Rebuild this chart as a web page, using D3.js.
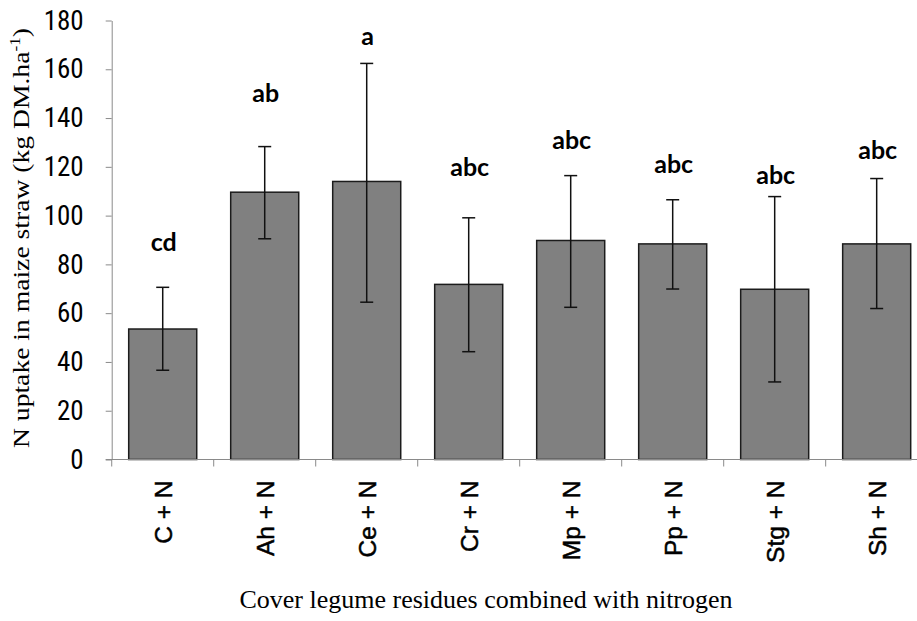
<!DOCTYPE html>
<html>
<head>
<meta charset="utf-8">
<script src="https://cdn.jsdelivr.net/npm/d3@7"></script>
<style>
  body { margin: 0; background: #fff; }
  svg { display: block; }
</style>
</head>
<body>
<div id="chart"></div>
<script>
// data
var treatments = ['C + N', 'Ah + N', 'Ce + N', 'Cr + N', 'Mp + N', 'Pp + N', 'Stg + N', 'Sh + N']
var uptake = [53.5, 109.6, 114.0, 71.8, 89.8, 88.4, 69.8, 88.4]
var errLow = [36.6, 90.5, 64.5, 44.2, 62.4, 69.9, 31.8, 61.9]
var errHigh = [70.6, 128.3, 162.4, 99.1, 116.4, 106.5, 107.8, 115.2]
var letters = ['cd', 'ab', 'a', 'abc', 'abc', 'abc', 'abc', 'abc']
var letterAt = [89.2, 150.1, 173.8, 119.9, 130.8, 121.3, 116.5, 126.7]
var yTicks = [0, 20, 40, 60, 80, 100, 120, 140, 160, 180]

var width = 917,
    height = 621

var svg = d3.select('#chart')
    .append('svg')
    .attr('width', width)
    .attr('height', height)

var rows = treatments.map((t, i) => {
    return { name: t, v: uptake[i], lo: errLow[i], hi: errHigh[i], letter: letters[i], at: letterAt[i] }
})

// scales
var xscale = d3.scaleBand()
    .domain(treatments)
    .range([111.7, 927.7])
    .paddingInner(0.333)
    .paddingOuter(0.1667)

var yscale = d3.scaleLinear()
    .domain([0, 180])
    .range([459.5, 20.5])

var gap = (xscale.step() - xscale.bandwidth()) / 2

// bars
svg.selectAll('rect.bar')
    .data(rows)
    .enter()
    .append('rect')
    .attr('class', 'bar')
    .attr('x', d => xscale(d.name))
    .attr('y', d => yscale(d.v))
    .attr('width', xscale.bandwidth())
    .attr('height', d => yscale(0) - yscale(d.v))
    .attr('fill', '#808080')
    .attr('stroke', '#1c1c1c')
    .attr('stroke-width', 1.5)

// axes
var yaxis = d3.axisLeft(yscale)
    .tickValues(yTicks)
    .tickSize(6)
    .tickPadding(22)
    .tickSizeOuter(0)
svg.append('g')
    .attr('id', 'y-axis')
    .attr('transform', 'translate(111.7,0)')
    .call(yaxis)
    .call(g => g.selectAll('line, path').attr('stroke', '#8a8a8a'))
    .call(g => g.selectAll('text')
        .attr('fill', '#000')
        .style('font-family', '"Liberation Sans Narrow", "Roboto Condensed", sans-serif')
        .style('font-size', '27px'))

var xaxis = d3.axisBottom(xscale)
    .tickSize(0)
    .tickSizeOuter(0)
svg.append('g')
    .attr('id', 'x-axis')
    .attr('transform', 'translate(0,459.5)')
    .call(xaxis)
    .call(g => g.select('.domain').attr('stroke', '#8a8a8a').attr('d', 'M105.7,0H917'))
    .call(g => g.selectAll('text')
        .attr('fill', '#000')
        .attr('stroke', '#000')
        .attr('stroke-width', 0.5)
        .attr('transform', 'rotate(-90)')
        .attr('text-anchor', 'end')
        .attr('x', -21)
        .attr('y', 0)
        .attr('dy', '0.36em')
        .style('font-family', '"Liberation Sans", Arial, sans-serif')
        .style('font-size', '24.5px'))

// tick marks between the categories
svg.append('g')
    .selectAll('line')
    .data(treatments)
    .enter()
    .append('line')
    .attr('x1', d => xscale(d) - gap)
    .attr('x2', d => xscale(d) - gap)
    .attr('y1', yscale(0))
    .attr('y2', yscale(0) + 7)
    .attr('stroke', '#8a8a8a')

// error bars
var err = svg.append('g')
    .selectAll('g')
    .data(rows)
    .enter()
    .append('g')
    .attr('stroke', '#111')
    .attr('stroke-width', 1.5)
var cx = d => xscale(d.name) + xscale.bandwidth() / 2
err.append('line')
    .attr('x1', cx).attr('x2', cx)
    .attr('y1', d => yscale(d.lo)).attr('y2', d => yscale(d.hi))
err.append('line')
    .attr('x1', d => cx(d) - 6.5).attr('x2', d => cx(d) + 6.5)
    .attr('y1', d => yscale(d.hi)).attr('y2', d => yscale(d.hi))
err.append('line')
    .attr('x1', d => cx(d) - 6.5).attr('x2', d => cx(d) + 6.5)
    .attr('y1', d => yscale(d.lo)).attr('y2', d => yscale(d.lo))

// significance letters
svg.append('g')
    .selectAll('text')
    .data(rows)
    .enter()
    .append('text')
    .attr('x', d => cx(d) + 1)
    .attr('y', d => yscale(d.at))
    .attr('dy', '0.36em')
    .attr('text-anchor', 'middle')
    .style('font-family', 'Lato, "Open Sans", sans-serif')
    .style('font-weight', 'bold')
    .style('font-size', '25px')
    .text(d => d.letter)

// axis titles
svg.append('text')
    .attr('x', 486)
    .attr('y', 608)
    .attr('text-anchor', 'middle')
    .style('font-family', '"Liberation Serif", "Times New Roman", serif')
    .style('font-size', '26px')
    .text('Cover legume residues combined with nitrogen')

var ytitle = svg.append('text')
    .attr('transform', 'translate(29,238) rotate(-90)')
    .attr('text-anchor', 'middle')
    .attr('textLength', 420)
    .attr('lengthAdjust', 'spacingAndGlyphs')
    .style('font-family', '"Liberation Serif", "Times New Roman", serif')
    .style('font-size', '24px')
ytitle.append('tspan').text('N uptake in maize straw (kg DM.ha')
ytitle.append('tspan').attr('dy', -9).style('font-size', '15px').text('-1')
ytitle.append('tspan').attr('dy', 9).text(')')
</script>
</body>
</html>
